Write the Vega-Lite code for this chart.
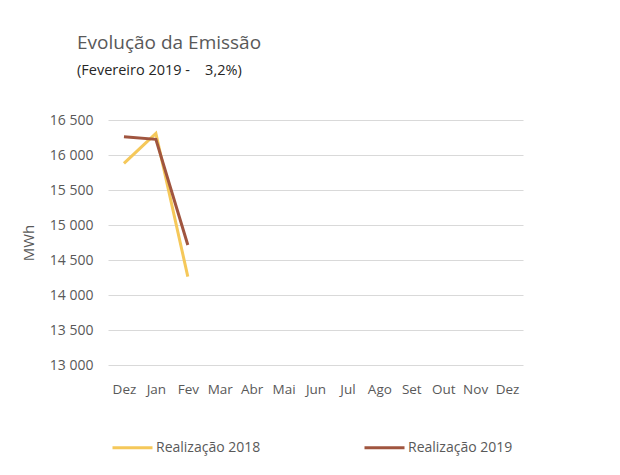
{
  "$schema": "https://vega.github.io/schema/vega-lite/v6.json",
  "autosize": "none",
  "width": 415,
  "height": 245,
  "padding": {"left": 108, "top": 120, "right": 97, "bottom": 110},
  "background": "white",
  "title": {
    "text": "Evolução da Emissão",
    "subtitle": "\u2009(Fevereiro 2019 -\u00a0\u00a0\u00a0 3,2%)",
    "anchor": "start",
    "frame": "group",
    "dx": -31,
    "offset": 36,
    "font": "Open Sans",
    "fontSize": 19,
    "fontWeight": "normal",
    "color": "#595959",
    "subtitleFont": "Open Sans",
    "subtitleFontSize": 14.5,
    "subtitleColor": "#262626",
    "subtitlePadding": 11
  },
  "data": {
    "values": [
      {"idx": 0, "serie": "Realização 2018", "mwh": 15881},
      {"idx": 1, "serie": "Realização 2018", "mwh": 16310},
      {"idx": 2, "serie": "Realização 2018", "mwh": 14262},
      {"idx": 0, "serie": "Realização 2019", "mwh": 16262},
      {"idx": 1, "serie": "Realização 2019", "mwh": 16224},
      {"idx": 2, "serie": "Realização 2019", "mwh": 14714}
    ]
  },
  "mark": {"type": "line", "strokeWidth": 3},
  "encoding": {
    "x": {
      "field": "idx",
      "type": "ordinal",
      "scale": {"domain": [0,1,2,3,4,5,6,7,8,9,10,11,12], "paddingInner": 0, "paddingOuter": 0},
      "axis": {
        "title": null,
        "labelAngle": 0,
        "labelExpr": "['Dez','Jan','Fev','Mar','Abr','Mai','Jun','Jul','Ago','Set','Out','Nov','Dez'][datum.value]",
        "domain": false,
        "ticks": false,
        "grid": false,
        "labelPadding": 17,
        "labelFontSize": 13.5
      }
    },
    "y": {
      "field": "mwh",
      "type": "quantitative",
      "scale": {"domain": [13000, 16500], "nice": false, "zero": false},
      "axis": {
        "title": "MWh",
        "values": [13000, 13500, 14000, 14500, 15000, 15500, 16000, 16500],
        "labelExpr": "replace(format(datum.value, ',d'), ',', ' ')",
        "labelFontSize": 14,
        "domain": false,
        "ticks": false,
        "labelPadding": 15,
        "titlePadding": 13,
        "titleFontWeight": "normal",
        "titleFontSize": 15
      }
    },
    "color": {
      "field": "serie",
      "type": "nominal",
      "scale": {"domain": ["Realização 2018", "Realização 2019"], "range": ["#F5C85A", "#A0553F"]},
      "legend": {
        "title": null,
        "orient": "none",
        "legendX": 3,
        "legendY": 306,
        "direction": "horizontal",
        "columns": 2,
        "symbolType": "stroke",
        "symbolSize": 1600,
        "symbolStrokeWidth": 3,
        "labelOffset": 2,
        "columnPadding": 97,
        "labelFontSize": 14
      }
    }
  },
  "config": {
    "font": "Open Sans",
    "view": {"stroke": null},
    "axis": {
      "labelFont": "Open Sans",
      "labelColor": "#595959",
      "titleFont": "Open Sans",
      "titleColor": "#595959",
      "gridColor": "#d9d9d9",
      "gridWidth": 1
    },
    "legend": {"labelFont": "Open Sans", "labelColor": "#595959"}
  }
}
